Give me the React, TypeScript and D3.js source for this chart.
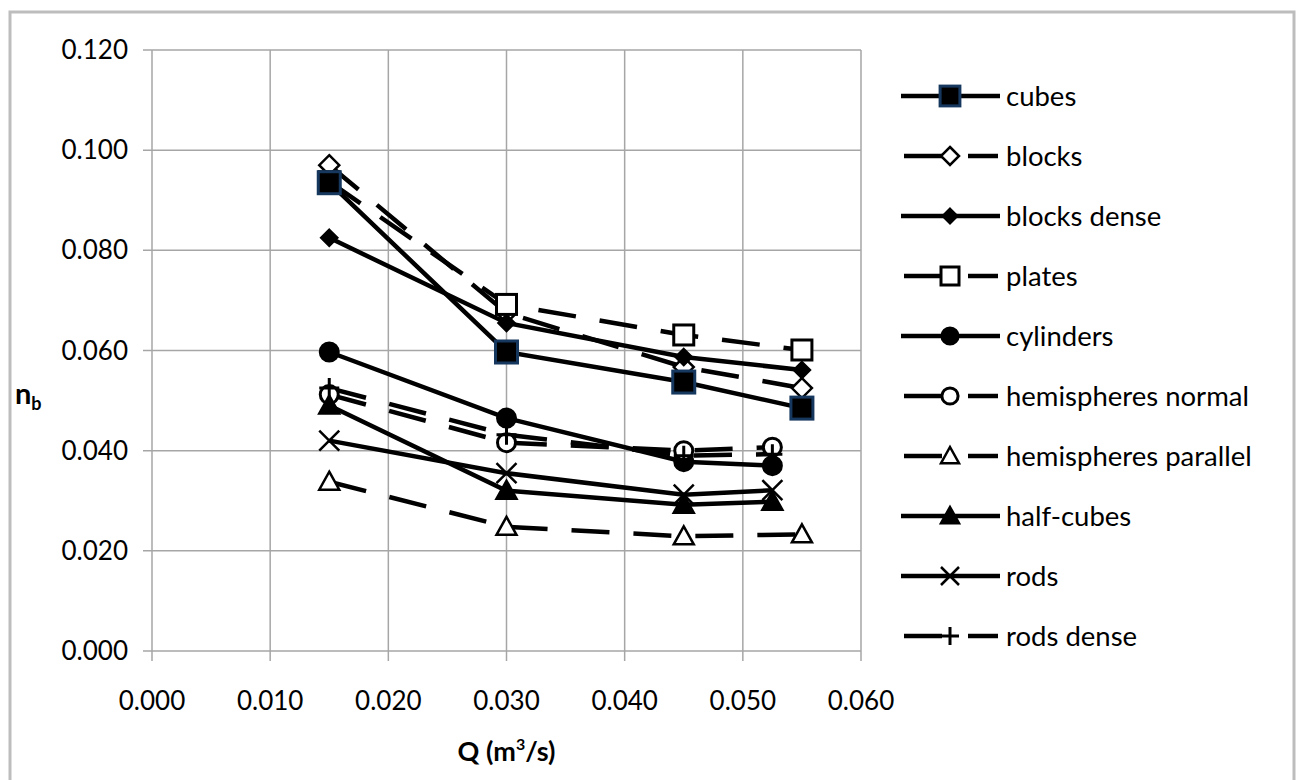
import React, { useEffect, useRef } from "react";
import * as d3 from "d3";

// x positions (Q, m3/s)
const qLong = [0.015, 0.03, 0.045, 0.055];
const qShort = [0.015, 0.03, 0.045, 0.0525];

// n_b values per series
const cubes = [0.0935, 0.0597, 0.0537, 0.0485];
const blocks = [0.097, 0.0675, 0.0567, 0.0525];
const blocksDense = [0.0825, 0.0655, 0.0587, 0.0561];
const plates = [0.0937, 0.0692, 0.0631, 0.0601];
const cylinders = [0.0597, 0.0465, 0.0378, 0.037];
const hemiNormal = [0.0512, 0.0416, 0.04, 0.0407];
const hemiParallel = [0.0338, 0.0248, 0.0229, 0.0233];
const halfCubes = [0.049, 0.032, 0.0292, 0.0298];
const rods = [0.042, 0.0355, 0.0312, 0.0321];
const rodsDense = [0.0525, 0.0432, 0.039, 0.0393];

const xTicks = [0, 0.01, 0.02, 0.03, 0.04, 0.05, 0.06];
const yTicks = [0, 0.02, 0.04, 0.06, 0.08, 0.1, 0.12];

const series = [
  { name: "cubes", q: qLong, v: cubes, dashed: false, marker: "cube" },
  { name: "blocks", q: qLong, v: blocks, dashed: true, marker: "diamondOpen" },
  { name: "blocks dense", q: qLong, v: blocksDense, dashed: false, marker: "diamond" },
  { name: "plates", q: qLong, v: plates, dashed: true, marker: "squareOpen" },
  { name: "cylinders", q: qShort, v: cylinders, dashed: false, marker: "circle" },
  { name: "hemispheres normal", q: qShort, v: hemiNormal, dashed: true, marker: "circleOpen" },
  { name: "hemispheres parallel", q: qLong, v: hemiParallel, dashed: true, marker: "triangleOpen" },
  { name: "half-cubes", q: qShort, v: halfCubes, dashed: false, marker: "triangle" },
  { name: "rods", q: qShort, v: rods, dashed: false, marker: "x" },
  { name: "rods dense", q: qShort, v: rodsDense, dashed: true, marker: "plus" },
];

const FONT = "Lato, 'Open Sans', sans-serif";

function drawMarker(g, type, x, y, s) {
  // s = scale factor (1 in plot, smaller in legend)
  if (type === "cube") {
    const h = 11 * s;
    g.append("rect").attr("x", x - h).attr("y", y - h).attr("width", 2 * h).attr("height", 2 * h)
      .attr("fill", "#000").attr("stroke", "#16375e").attr("stroke-width", 3);
  } else if (type === "squareOpen") {
    const h = 10 * s;
    g.append("rect").attr("x", x - h).attr("y", y - h).attr("width", 2 * h).attr("height", 2 * h)
      .attr("fill", "#fff").attr("stroke", "#000").attr("stroke-width", 3);
  } else if (type === "diamondOpen" || type === "diamond") {
    const h = (type === "diamond" ? 8 : 10) * s;
    g.append("path").attr("d", `M${x},${y - h}L${x + h},${y}L${x},${y + h}L${x - h},${y}Z`)
      .attr("fill", type === "diamond" ? "#000" : "#fff").attr("stroke", "#000").attr("stroke-width", 2.5);
  } else if (type === "circle" || type === "circleOpen") {
    g.append("circle").attr("cx", x).attr("cy", y).attr("r", 9 * s)
      .attr("fill", type === "circle" ? "#000" : "#fff").attr("stroke", "#000").attr("stroke-width", 3);
  } else if (type === "triangle" || type === "triangleOpen") {
    const h = 10 * s;
    g.append("path").attr("d", `M${x},${y - h}L${x + h},${y + h * 0.8}L${x - h},${y + h * 0.8}Z`)
      .attr("fill", type === "triangle" ? "#000" : "#fff").attr("stroke", "#000").attr("stroke-width", 2.5)
      .attr("stroke-linejoin", "miter");
  } else if (type === "x") {
    const h = 10 * s;
    g.append("path").attr("d", `M${x - h},${y - h}L${x + h},${y + h}M${x - h},${y + h}L${x + h},${y - h}`)
      .attr("stroke", "#000").attr("stroke-width", 2.5);
  } else if (type === "plus") {
    const h = 10 * s;
    g.append("path").attr("d", `M${x - h},${y}L${x + h},${y}M${x},${y - h}L${x},${y + h}`)
      .attr("stroke", "#000").attr("stroke-width", 3);
  }
}

export default function App() {
  const ref = useRef(null);

  useEffect(() => {
    const svg = d3.select(ref.current);
    svg.selectAll("*").remove();

    const left = 152, right = 861, top = 50, bottom = 651;
    const x = d3.scaleLinear().domain([0, 0.06]).range([left, right]);
    const y = d3.scaleLinear().domain([0, 0.12]).range([bottom, top]);

    // frame
    svg.append("rect").attr("x", 10).attr("y", 12).attr("width", 1284).attr("height", 790)
      .attr("fill", "#fff").attr("stroke", "#bdbdbd").attr("stroke-width", 3);

    // grid
    const grid = svg.append("g").attr("stroke", "#a6a6a6").attr("stroke-width", 1.5);
    yTicks.forEach((t) => {
      grid.append("line").attr("x1", left - 9).attr("x2", right).attr("y1", y(t)).attr("y2", y(t));
    });
    xTicks.forEach((t) => {
      grid.append("line").attr("x1", x(t)).attr("x2", x(t)).attr("y1", top).attr("y2", bottom + 10);
    });

    // tick labels
    svg.append("g").selectAll("text").data(yTicks).enter().append("text")
      .attr("x", 128).attr("y", (d) => y(d)).attr("dy", "0.35em")
      .attr("text-anchor", "end").attr("font-family", FONT).attr("font-size", 26)
      .text((d) => d3.format(".3f")(d));
    svg.append("g").selectAll("text").data(xTicks).enter().append("text")
      .attr("x", (d) => x(d)).attr("y", 710)
      .attr("text-anchor", "middle").attr("font-family", FONT).attr("font-size", 26)
      .text((d) => d3.format(".3f")(d));

    // axis titles
    const qt = svg.append("text").attr("x", x(0.03)).attr("y", 761).attr("text-anchor", "middle")
      .attr("font-family", FONT).attr("font-size", 27).attr("font-weight", "bold");
    qt.append("tspan").text("Q (m");
    qt.append("tspan").attr("font-size", 16).attr("dy", -11).text("3");
    qt.append("tspan").attr("dy", 11).text("/s)");
    const nt = svg.append("text").attr("x", 15).attr("y", 404)
      .attr("font-family", FONT).attr("font-size", 29).attr("font-weight", "bold");
    nt.append("tspan").text("n");
    nt.append("tspan").attr("font-size", 18).attr("dy", 6).text("b");

    // lines
    const line = d3.line().x((d) => x(d[0])).y((d) => y(d[1]));
    series.forEach((s) => {
      svg.append("path").datum(s.q.map((q, i) => [q, s.v[i]]))
        .attr("d", line).attr("fill", "none").attr("stroke", "#000").attr("stroke-width", 4.5)
        .attr("stroke-dasharray", s.dashed ? "38,24" : null);
    });
    // markers, cubes last so they sit on top
    [...series.slice(1), series[0]].forEach((s) => {
      const g = svg.append("g");
      s.q.forEach((q, i) => drawMarker(g, s.marker, x(q), y(s.v[i]), 1));
    });

    // legend
    const lg = svg.append("g");
    series.forEach((s, i) => {
      const ly = 96 + i * 60;
      if (s.dashed) {
        lg.append("line").attr("x1", 904).attr("x2", 942).attr("y1", ly).attr("y2", ly)
          .attr("stroke", "#000").attr("stroke-width", 4.5);
        lg.append("line").attr("x1", 968).attr("x2", 998).attr("y1", ly).attr("y2", ly)
          .attr("stroke", "#000").attr("stroke-width", 4.5);
      } else {
        lg.append("line").attr("x1", 901).attr("x2", 1000).attr("y1", ly).attr("y2", ly)
          .attr("stroke", "#000").attr("stroke-width", 4.5);
      }
      drawMarker(lg, s.marker, 950, ly, 0.9);
      lg.append("text").attr("x", 1006).attr("y", ly).attr("dy", "0.35em")
        .attr("font-family", FONT).attr("font-size", 27.5).text(s.name);
    });
  }, []);

  return (
    <svg ref={ref} width={1300} height={780} style={{ position: "absolute", left: 0, top: 0 }} />
  );
}
